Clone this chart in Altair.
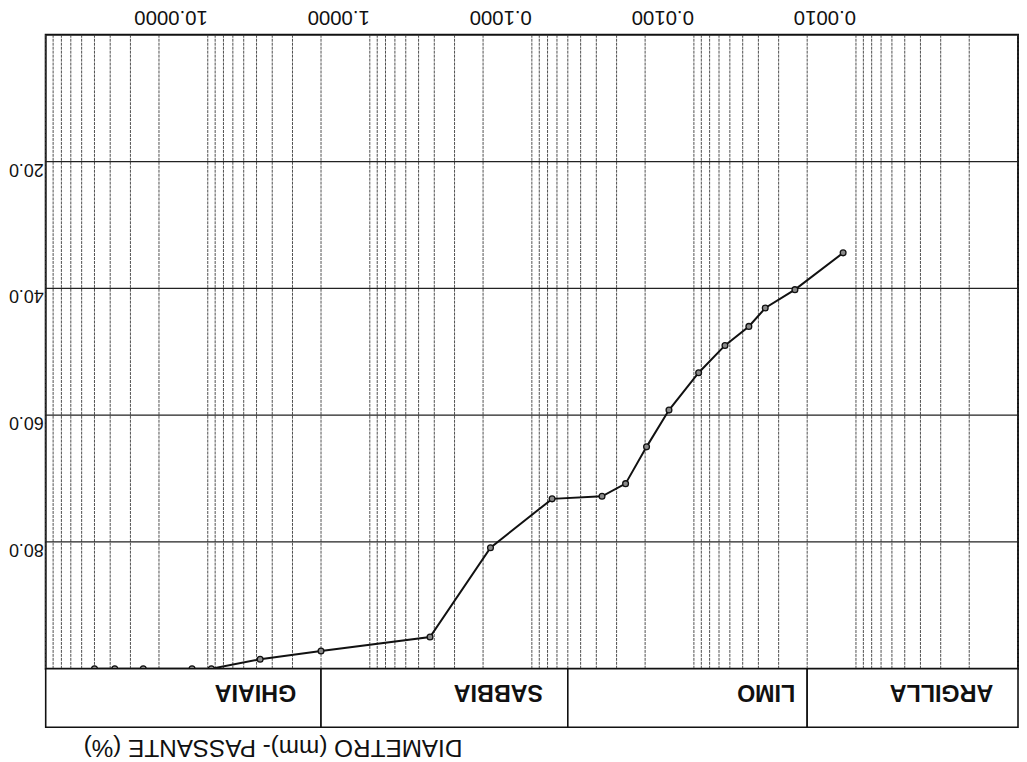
import altair as alt
import pandas as pd

# --- data read from the (upside-down) grain-size chart ---
diametro = [50.0, 37.5, 25.0, 12.5, 9.5, 4.75, 2.0, 0.425, 0.18, 0.075,
            0.0369, 0.0264, 0.0196, 0.01425, 0.00935, 0.00643, 0.00458,
            0.00363, 0.00238, 0.0012]
passante = [100.0, 100.0, 100.0, 100.0, 100.0, 98.5, 97.2, 95.0, 80.9, 73.2,
            72.8, 70.8, 65.0, 59.2, 53.3, 49.0, 46.0, 43.1, 40.2, 34.4]

x_tick_values = [10, 1, 0.1, 0.01, 0.001]
x_tick_labels = ["10.0000", "1.0000", "0.1000", "0.0100", "0.0010"]
y_tick_values = [20, 40, 60, 80]
y_tick_labels = ["20.0", "40.0", "60.0", "80.0"]

classi = ["GHIAIA", "SABBIA", "LIMO", "ARGILLA"]
classi_max = [100, 2, 0.06, 0.002]
classi_min = [2, 0.06, 0.002, 0.0001]

asse_titolo = "DIAMETRO (mm)- PASSANTE (%)"

# log grid lines 1..9 x 10^k
grid_values = [100.0]
for e in range(-4, 2):
    for m in range(1, 10):
        grid_values.append(round(m * 10 ** e, 8))

W, H = 980, 639
FONT = "Liberation Sans"

curve = pd.DataFrame({"d": diametro, "p": passante})
xt = pd.DataFrame({"d": x_tick_values, "lab": x_tick_labels})
yt = pd.DataFrame({"p": y_tick_values, "lab": y_tick_labels})
cl = pd.DataFrame({"nome": classi, "dmax": classi_max, "dmin": classi_min})
gv = pd.DataFrame({"d": grid_values})

xs = alt.Scale(type="log", domain=[0.0001, 100], reverse=True, nice=False)
ys = alt.Scale(domain=[0, 100], reverse=True, nice=False, zero=False)

vgrid = alt.Chart(gv).mark_rule(color="#3a3a3a", strokeWidth=0.9, strokeDash=[3, 1]).encode(
    x=alt.X("d:Q", scale=xs, axis=None),
    y=alt.value(0),
    y2=alt.value(H),
)

hgrid = alt.Chart(yt).mark_rule(color="#222", strokeWidth=1.2).encode(
    y=alt.Y("p:Q", scale=ys, axis=None),
    x=alt.value(0),
    x2=alt.value(W),
)

line = alt.Chart(curve).mark_line(color="#111", strokeWidth=2).encode(
    x=alt.X("d:Q", scale=xs, axis=None),
    y=alt.Y("p:Q", scale=ys, axis=None),
)

pts = alt.Chart(curve).mark_point(shape="circle", size=34, filled=True, fill="#8a8a8a",
                                  stroke="#111", strokeWidth=1.3, opacity=1).encode(
    x=alt.X("d:Q", scale=xs, axis=None),
    y=alt.Y("p:Q", scale=ys, axis=None),
)

xlab = alt.Chart(xt).mark_text(angle=180, align="left", baseline="alphabetic",
                               font=FONT, fontSize=20.5, color="#111").encode(
    x=alt.X("d:Q", scale=xs, axis=None),
    y=alt.value(-24),
    text="lab:N",
)

ylab = alt.Chart(yt).mark_text(angle=180, align="left", baseline="alphabetic",
                               font=FONT, fontSize=18, color="#111", dy=-2).encode(
    x=alt.value(-2),
    y=alt.Y("p:Q", scale=ys, axis=None),
    text="lab:N",
)

band = alt.Chart(cl).mark_rect(fill="white", stroke="#111", strokeWidth=1.6).encode(
    x=alt.X("dmax:Q", scale=xs, axis=None),
    x2="dmin:Q",
    y=alt.value(H),
    y2=alt.value(H + 59),
)

band_txt = alt.Chart(cl).transform_filter(alt.datum.nome != "LIMO").mark_text(
    angle=180, align="left", baseline="alphabetic", font=FONT, fontSize=23.5,
    fontWeight="bold", color="#111", dx=25).encode(
    x=alt.X("dmin:Q", scale=xs, axis=None),
    y=alt.value(H + 16),
    text="nome:N",
)

band_txt2 = alt.Chart(cl).transform_filter(alt.datum.nome == "LIMO").mark_text(
    angle=180, align="left", baseline="alphabetic", font=FONT, fontSize=23.5,
    fontWeight="bold", color="#111", dx=12).encode(
    x=alt.X("dmin:Q", scale=xs, axis=None),
    y=alt.value(H + 16),
    text="nome:N",
)

titolo = alt.Chart(pd.DataFrame({"t": [asse_titolo]})).mark_text(
    angle=180, align="left", baseline="alphabetic", font=FONT, fontSize=24.5,
    color="#111").encode(
    x=alt.value(420),
    y=alt.value(H + 72),
    text="t:N",
)

chart = alt.layer(vgrid, hgrid, line, pts, xlab, ylab, band, band_txt, band_txt2,
                  titolo).properties(
    width=W, height=H,
    autosize=alt.AutoSizeParams(type="none"),
    padding={"left": 38, "top": 24, "right": 1, "bottom": 92},
    background="white",
).configure_view(stroke="#111", strokeWidth=2)

chart.save("out.html", embed_options={"renderer": "svg", "actions": False})
